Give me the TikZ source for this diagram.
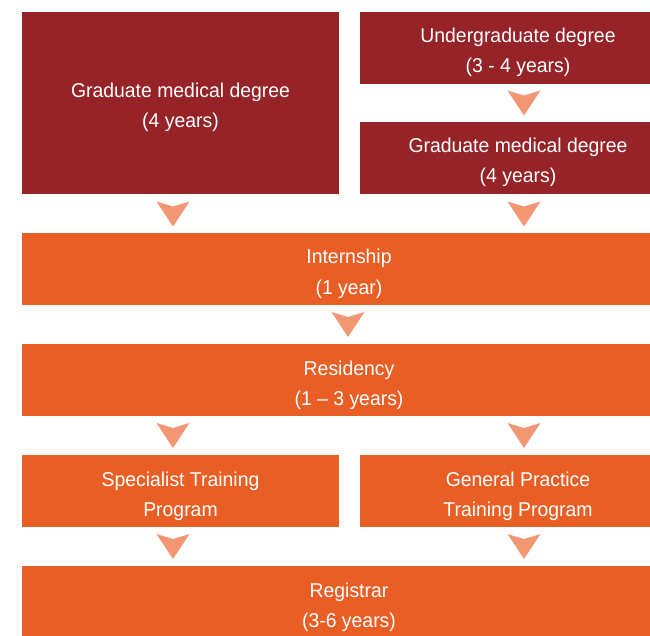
\documentclass[tikz,border=0pt]{standalone}
\usepackage{fontspec}
\setmainfont{Liberation Sans}[FakeStretch=0.97]
\definecolor{degreered}{HTML}{952327}
\definecolor{trainorange}{HTML}{E95E24}
\definecolor{arrowsalmon}{HTML}{F39673}
\tikzset{
  stage/.style={rectangle, inner sep=0pt, align=center, text=white,
    text height=50pt, text depth=0pt,
    font=\fontsize{20}{30}\selectfont},
  degree/.style={stage, fill=degreered},
  train/.style={stage, fill=trainorange},
  downtri/.pic={\fill[arrowsalmon] (-16.5,-12.5) -- (0,-7.5) -- (16.5,-12.5) -- (0,12.5) -- cycle;}
}
\begin{document}
\begin{tikzpicture}[x=1pt,y=-1pt]
  \useasboundingbox (0,0) rectangle (650,636);
  \begin{scope}
    \clip (0,0) rectangle (650,636);
    % degrees
    \node[degree, minimum width=317, minimum height=182] (gmdleft) at (180.5,103)
      {Graduate medical degree\\(4 years)};
    \node[degree, minimum width=316, minimum height=72] (ugrad) at (518,48)
      {Undergraduate degree\\(3 - 4 years)};
    \node[degree, minimum width=316, minimum height=72] (gmdright) at (518,158)
      {Graduate medical degree\\(4 years)};
    % training
    \node[train, minimum width=654, minimum height=72] (intern) at (349,269)
      {Internship\\(1 year)};
    \node[train, minimum width=654, minimum height=72] (resid) at (349,380)
      {Residency\\(1 -- 3 years)};
    \node[train, minimum width=317, minimum height=72] (spec) at (180.5,491)
      {Specialist Training\\Program};
    \node[train, minimum width=316, minimum height=72] (gp) at (518,491)
      {General Practice\\Training Program};
    \node[train, minimum width=654, minimum height=72] (reg) at (349,602)
      {Registrar\\(3-6 years)};
  \end{scope}
  \foreach \x/\y in {524/103, 173/214, 524/214, 348/324.5,
                     173/435.5, 524/435.5, 173/546.5, 524/546.5}
    \pic at (\x,\y) {downtri};
\end{tikzpicture}
\end{document}
